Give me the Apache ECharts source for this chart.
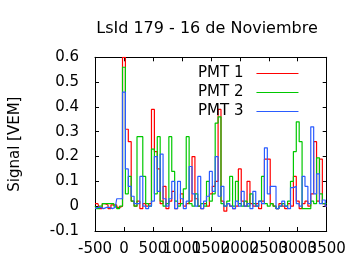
<!DOCTYPE html>
<html><head><meta charset="utf-8">
<script src="https://cdn.jsdelivr.net/npm/echarts@6/dist/echarts.min.js"></script>
<style>html,body{margin:0;padding:0;background:#fff}#c{width:360px;height:270px}</style>
</head><body><div id="c"></div>
<script>
var xStart = -500, xStep = 50;
var xTicks = [-500, 0, 500, 1000, 1500, 2000, 2500, 3000, 3500];
var seriesNames = ['PMT 1', 'PMT 2', 'PMT 3'];
var pmt1 = [0.01,0.01,-0.01,0.01,0.005,-0.01,0.005,0.005,-0.005,0.0,
  0.60,0.31,0.26,0.02,0.0,0.02,-0.01,0.01,0.0,0.01,
  0.39,0.22,0.15,0.01,0.08,-0.01,0.02,0.06,-0.01,0.01,
  0.05,0.0,0.01,0.02,0.20,0.03,0.0,-0.01,0.01,0.0,
  0.05,0.08,0.10,0.39,0.02,-0.02,0.01,0.0,-0.01,0.0,
  0.15,0.02,0.0,0.10,0.01,0.0,0.01,-0.01,0.02,0.19,
  0.19,0.01,0.0,-0.01,0.01,0.0,-0.01,0.01,0.0,0.12,
  0.02,-0.01,0.01,0.02,0.0,0.05,0.26,0.02,0.19,0.01,0.0];
var pmt2 = [0.0,-0.01,0.0,0.01,0.01,0.01,0.01,0.0,-0.01,0.0,
  0.56,0.05,0.12,0.02,0.0,0.28,0.28,0.12,0.01,0.0,
  0.23,0.05,0.28,0.02,0.0,0.01,0.28,0.14,0.02,0.0,
  0.01,0.07,0.28,0.01,0.0,0.05,0.0,0.01,0.0,0.10,
  0.02,0.05,0.335,0.36,0.01,0.0,0.02,0.12,0.0,0.10,
  0.01,0.0,0.02,0.0,0.05,0.01,0.0,0.02,0.12,0.01,
  0.0,0.01,0.0,-0.01,0.0,0.01,0.0,0.02,0.10,0.22,
  0.34,0.26,-0.01,-0.01,-0.01,0.02,0.01,0.195,0.05,0.01,0.01];
var pmt3 = [-0.01,-0.005,-0.005,-0.01,-0.005,-0.005,-0.01,-0.005,0.03,0.03,
  0.46,0.15,0.08,0.04,0.01,0.01,0.12,0.0,-0.01,0.0,
  0.02,0.20,0.06,0.21,0.03,0.0,0.03,0.10,-0.01,0.10,
  0.03,-0.01,0.02,0.16,0.05,0.0,0.12,-0.01,0.02,0.04,
  0.14,0.06,0.20,0.04,0.08,0.0,0.01,0.0,-0.01,0.02,
  0.0,0.06,0.0,0.01,-0.01,0.06,0.0,0.02,0.01,0.235,
  0.05,0.08,0.08,-0.01,0.0,0.02,0.0,-0.01,0.075,0.08,
  0.01,0.0,0.12,0.08,0.01,0.32,0.05,0.13,0.01,0.025,0.0];
var colors = ['#ff0000', '#00c800', '#2a5cff'];

function toPairs(arr) { return arr.map(function (v, i) { return [xStart + i * xStep, v]; }); }
var allData = [pmt1, pmt2, pmt3];
var font = 'DejaVu Sans';
var lastTick = xTicks[xTicks.length - 1];
var chart = echarts.init(document.getElementById('c'), null, {renderer: 'canvas'});
var axisCommon = {
  axisLine: {show: true, onZero: false, lineStyle: {color: '#000', width: 1}},
  axisTick: {show: true, inside: true, length: 4, lineStyle: {color: '#000'}},
  splitLine: {show: false}
};
var xLabelStyle = {fontFamily: font, fontSize: 15, color: '#000', margin: 11};
chart.setOption({
  animation: false,
  title: {text: 'LsId 179 - 16 de Noviembre', left: 202, top: 16, textAlign: 'center',
    textStyle: {fontFamily: font, fontSize: 16, fontWeight: 'normal', color: '#000'}},
  grid: {left: 90.8, right: 33.3, top: 57.3, bottom: 39},
  legend: {
    orient: 'vertical', left: 193, top: 59, align: 'right', itemGap: 0,
    itemWidth: 42, itemHeight: 1, icon: 'rect',
    textStyle: {fontFamily: font, fontSize: 15, color: '#000', lineHeight: 19, padding: [0, 8, 0, 0]},
    data: seriesNames
  },
  xAxis: [
    Object.assign({type: 'value', min: -500, max: 3500, interval: 500, position: 'bottom',
      axisLabel: Object.assign({showMinLabel: true, showMaxLabel: false,
        formatter: function (v) { return (xTicks.indexOf(v) >= 0 && v !== lastTick) ? String(v) : ''; }}, xLabelStyle)}, axisCommon),
    Object.assign({type: 'value', min: -500, max: 3500, interval: 500, position: 'top',
      axisLabel: {show: false}}, axisCommon),
    {type: 'value', min: -500, max: 3500, interval: 500, position: 'bottom',
      axisLine: {show: false}, axisTick: {show: false}, splitLine: {show: false},
      axisLabel: Object.assign({showMinLabel: false, showMaxLabel: true,
        formatter: function (v) { return v === lastTick ? String(v) : ''; }}, xLabelStyle)}
  ],
  yAxis: [
    Object.assign({type: 'value', min: -0.1, max: 0.6, interval: 0.1, position: 'left',
      name: 'Signal [VEM]', nameLocation: 'middle', nameGap: 72, nameRotate: 90,
      nameTextStyle: {fontFamily: font, fontSize: 15, color: '#000'},
      axisLabel: {fontFamily: font, fontSize: 15, color: '#000', margin: 16,
        showMinLabel: true, showMaxLabel: true,
        formatter: function (v) { return String(Math.round(v * 10) / 10); }}}, axisCommon),
    Object.assign({type: 'value', min: -0.1, max: 0.6, interval: 0.1, position: 'right',
      axisLabel: {show: false}}, axisCommon)
  ],
  series: allData.map(function (d, k) {
    return {name: seriesNames[k], type: 'line', step: 'middle', data: toPairs(d),
      symbol: 'none', color: colors[k], lineStyle: {width: 1.2, color: colors[k]},
      xAxisIndex: 0, yAxisIndex: 0, z: 2 + k};
  })
});
</script></body></html>
